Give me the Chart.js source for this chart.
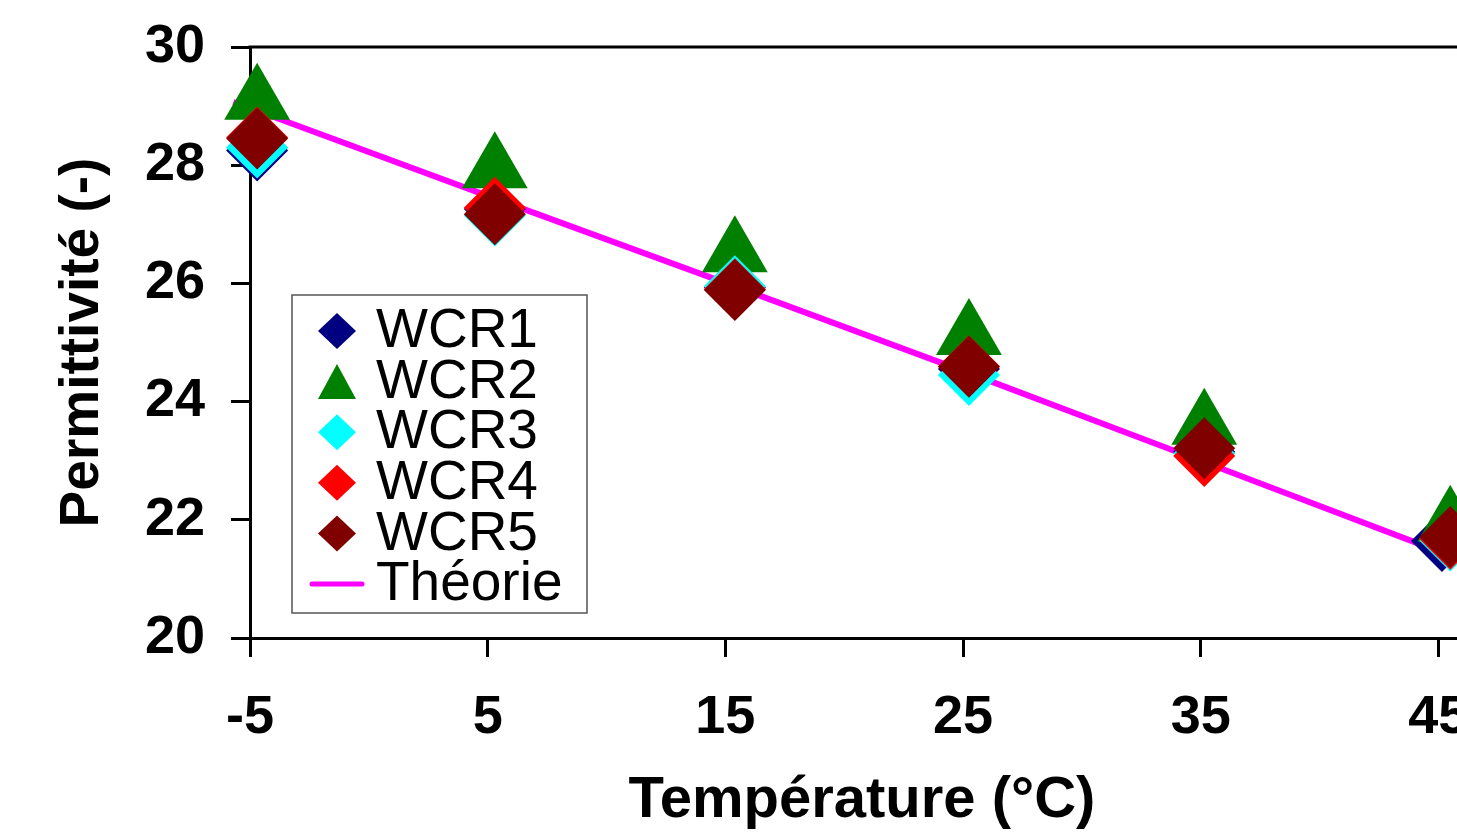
<!DOCTYPE html>
<html>
<head>
<meta charset="utf-8">
<script src="https://cdn.jsdelivr.net/npm/chart.js@4.4.0/dist/chart.umd.min.js"></script>
<style>
  html, body { margin: 0; padding: 0; background: #fff; overflow: hidden; width: 1457px; height: 837px; }
  canvas { display: block; }
</style>
</head>
<body>
<!-- le graphe d'origine est coupé à droite : le canvas est plus large que la fenêtre -->
<canvas id="graphe" width="1512" height="837"></canvas>
<script>
// données
const xTicks = [-5, 5, 15, 25, 35, 45];
const yTicks = [20, 22, 24, 26, 28, 30];

const temperatures = [-4.7, 5.3, 15.4, 25.25, 35.15, 45.5];
const temperaturesWCR1 = [-4.7, 5.3, 15.4, 25.25, 35.15, 45.15];

const wcr1 = [28.25, 27.26, 25.93, 24.55, 23.15, 21.64];
const wcr2 = [29.09, 27.93, 26.51, 25.11, 23.59, 21.95];
const wcr3 = [28.30, 27.15, 25.95, 24.45, 23.12, 21.65];
const wcr4 = [28.47, 27.28, 25.90, 24.60, 23.08, 21.68];
const wcr5 = [28.45, 27.17, 25.89, 24.59, 23.21, 21.71];

const tempTheorie = [-5.7, 5, 15, 25, 35, 45];
const theorie = [29.07, 27.48, 26.01, 24.52, 23.00, 21.47];

const police = '"Liberation Sans", Arial, sans-serif';

function points(xs, ys) {
  return xs.map((x, i) => ({ x: x, y: ys[i] }));
}

function serie(label, xs, ys, couleur, style, rayon, ordre) {
  return {
    label: label,
    data: points(xs, ys),
    backgroundColor: couleur,
    borderColor: couleur,
    pointStyle: style,
    pointRadius: rayon,
    pointHoverRadius: rayon,
    pointBorderWidth: 0,
    showLine: false,
    clip: false,
    order: ordre
  };
}

const datasets = [
  {
    label: 'Théorie',
    data: points(tempTheorie, theorie),
    borderColor: '#FF00FF',
    backgroundColor: '#FF00FF',
    borderWidth: 6,
    showLine: true,
    pointRadius: 0,
    tension: 0,
    clip: false,
    order: 6
  },
  serie('WCR1', temperaturesWCR1, wcr1, '#000080', 'rectRot', 31, 5),
  serie('WCR2', temperatures, wcr2, '#008000', 'triangle', 38, 4),
  serie('WCR3', temperatures, wcr3, '#00FFFF', 'rectRot', 31, 3),
  serie('WCR4', temperatures, wcr4, '#FF0000', 'rectRot', 31, 2),
  serie('WCR5', temperatures, wcr5, '#800000', 'rectRot', 31, 1)
];

// légende dessinée à la main dans la zone du graphe + bordure du haut
const legendeCadre = {
  id: 'legendeCadre',
  afterDraw(chart) {
    const ctx = chart.ctx;
    const zone = chart.chartArea;
    ctx.save();

    // cadre du graphe (haut et droite)
    ctx.strokeStyle = '#000';
    ctx.lineWidth = 3;
    ctx.beginPath();
    ctx.moveTo(zone.left - 1.5, zone.top);
    ctx.lineTo(zone.right, zone.top);
    ctx.lineTo(zone.right, zone.bottom);
    ctx.stroke();

    // cadre de la légende
    const bx = zone.left + 42, by = zone.top + 248, bw = 295, bh = 318;
    ctx.fillStyle = '#fff';
    ctx.fillRect(bx, by, bw, bh);
    ctx.strokeStyle = '#555';
    ctx.lineWidth = 1.5;
    ctx.strokeRect(bx, by, bw, bh);

    const ordreLegende = ['WCR1', 'WCR2', 'WCR3', 'WCR4', 'WCR5', 'Théorie'];
    ctx.font = '55px ' + police;
    ctx.textBaseline = 'middle';
    ctx.textAlign = 'left';
    ordreLegende.forEach((nom, i) => {
      const ds = chart.data.datasets.find(d => d.label === nom);
      const cy = by + 36 + i * 50.6;
      const cx = bx + 45;
      ctx.fillStyle = ds.backgroundColor;
      if (ds.showLine) {
        ctx.strokeStyle = ds.borderColor;
        ctx.lineWidth = 5;
        ctx.lineCap = 'round';
        ctx.beginPath();
        ctx.moveTo(cx - 25, cy);
        ctx.lineTo(cx + 25, cy);
        ctx.stroke();
      } else if (ds.pointStyle === 'triangle') {
        ctx.beginPath();
        ctx.moveTo(cx, cy - 17.5);
        ctx.lineTo(cx + 19, cy + 17.5);
        ctx.lineTo(cx - 19, cy + 17.5);
        ctx.closePath();
        ctx.fill();
      } else {
        ctx.beginPath();
        ctx.moveTo(cx, cy - 18);
        ctx.lineTo(cx + 19, cy);
        ctx.lineTo(cx, cy + 18);
        ctx.lineTo(cx - 19, cy);
        ctx.closePath();
        ctx.fill();
      }
      ctx.fillStyle = '#000';
      ctx.fillText(nom, bx + 84, cy + 1);
    });
    ctx.restore();
  }
};

const grilleAxe = {
  drawOnChartArea: false,
  drawTicks: true,
  tickLength: 19,
  tickWidth: 3,
  tickColor: '#000'
};

new Chart(document.getElementById('graphe'), {
  type: 'scatter',
  data: { datasets: datasets },
  options: {
    responsive: false,
    animation: false,
    layout: { padding: { top: 47, right: 0, left: 0, bottom: 0 } },
    plugins: {
      legend: { display: false },
      tooltip: { enabled: false }
    },
    scales: {
      x: {
        type: 'linear',
        min: -5,
        max: 46.5,
        afterBuildTicks: s => { s.ticks = xTicks.map(v => ({ value: v })); },
        afterFit: s => { s.height = 199; },
        grid: grilleAxe,
        border: { display: true, color: '#000', width: 3 },
        ticks: {
          color: '#000',
          padding: 29,
          maxRotation: 0,
          autoSkip: false,
          font: { family: police, size: 54, weight: 'bold' }
        },
        title: {
          display: true,
          text: 'Température (°C)',
          color: '#000',
          padding: { top: 0, bottom: 1 },
          font: { family: police, size: 58, weight: 'bold' }
        }
      },
      y: {
        type: 'linear',
        min: 20,
        max: 30,
        afterBuildTicks: s => { s.ticks = yTicks.map(v => ({ value: v })); },
        afterFit: s => { s.width = 250; s.paddingTop = 0; s.paddingBottom = 0; },
        grid: grilleAxe,
        border: { display: true, color: '#000', width: 3 },
        ticks: {
          color: '#000',
          padding: 26,
          font: { family: police, size: 54, weight: 'bold' }
        },
        title: {
          display: true,
          text: 'Permittivité (-)',
          color: '#000',
          padding: { top: 50, bottom: 0 },
          font: { family: police, size: 55, weight: 'bold' }
        }
      }
    }
  },
  plugins: [legendeCadre]
});
</script>
</body>
</html>
